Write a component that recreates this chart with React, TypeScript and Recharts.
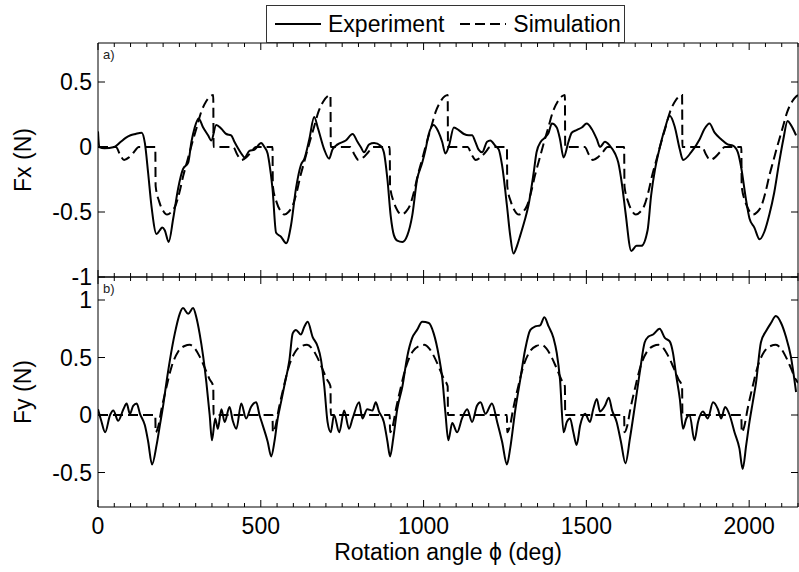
import React from 'react';
import { LineChart, Line, XAxis, YAxis, Legend } from 'recharts';

const FONT = '"Liberation Sans", Arial, Helvetica, sans-serif';

// [rotation angle (deg), force (N)]
const expFx = [
  [0, 0.12], [4, 0.0], [20, -0.01], [50, 0.0], [70, 0.04], [85, 0.07], [100, 0.09], [115, 0.1], [134, 0.11],
  [144, 0.03], [154, -0.2], [164, -0.45], [180, -0.67], [190, -0.64], [197, -0.62], [205, -0.64], [217, -0.73],
  [231, -0.55], [246, -0.32], [261, -0.17], [277, -0.12], [287, 0.04], [297, 0.15], [309, 0.22], [323, 0.15],
  [338, 0.09], [348, 0.05], [363, 0.17], [379, 0.14], [394, 0.1], [409, 0.09], [419, 0.04], [430, -0.01],
  [440, -0.05], [450, -0.08], [465, -0.03], [481, -0.02], [501, 0.03], [511, 0.0], [521, -0.05],
  [526, -0.12], [536, -0.32], [547, -0.66], [562, -0.69], [578, -0.74], [593, -0.6], [608, -0.32], [623, -0.14],
  [634, -0.09], [649, 0.06], [664, 0.23], [676, 0.14], [695, -0.02], [710, -0.09], [720, -0.02], [736, 0.02],
  [761, 0.05], [782, 0.1], [797, 0.04], [807, 0.0], [817, -0.04], [833, 0.02], [848, 0.03], [868, 0.01],
  [878, -0.04], [889, -0.25], [899, -0.53], [909, -0.68], [919, -0.72], [935, -0.73], [950, -0.68], [965, -0.53],
  [980, -0.25], [996, -0.12], [1006, -0.02], [1016, 0.1], [1031, 0.17], [1045, 0.12], [1057, 0.04], [1067, -0.05],
  [1078, 0.01], [1093, 0.15], [1108, 0.13], [1124, 0.1], [1139, 0.09], [1149, 0.09], [1159, 0.04], [1169, -0.02],
  [1180, -0.04], [1195, 0.04], [1205, 0.05], [1220, 0.01], [1231, -0.02], [1241, -0.14], [1256, -0.45],
  [1266, -0.68], [1276, -0.82], [1287, -0.76], [1297, -0.68], [1310, -0.57], [1322, -0.45], [1338, -0.2],
  [1347, -0.04], [1360, 0.04], [1372, 0.07], [1384, 0.11], [1394, 0.18], [1409, 0.15], [1419, 0.06], [1430, -0.08],
  [1445, 0.04], [1455, 0.11], [1470, 0.13], [1486, 0.15], [1501, 0.18], [1516, 0.14], [1532, 0.06], [1542, 0.0],
  [1557, 0.04], [1572, 0.01], [1588, -0.05], [1598, -0.12], [1610, -0.3], [1620, -0.5], [1638, -0.8],
  [1654, -0.76], [1669, -0.76], [1688, -0.64], [1699, -0.37], [1711, -0.17], [1722, -0.04], [1741, 0.14],
  [1756, 0.24], [1771, 0.16], [1787, -0.02], [1797, -0.1], [1822, -0.04], [1848, 0.06], [1863, 0.14], [1878, 0.18],
  [1894, 0.11], [1914, 0.06], [1934, 0.02], [1950, 0.01], [1965, -0.04], [1975, -0.15], [1990, -0.4],
  [2001, -0.55], [2016, -0.62], [2032, -0.71], [2047, -0.65], [2062, -0.52], [2077, -0.35], [2092, -0.12],
  [2105, 0.06], [2118, 0.2], [2128, 0.17], [2144, 0.09],
];

const simFx = [
  [0, 0], [55, 0], [68, -0.06], [80, -0.1], [95, -0.08], [110, -0.04], [125, 0], [176, 0], [177, -0.3], [188, -0.42],
  [200, -0.49], [212, -0.52], [225, -0.5], [238, -0.45], [250, -0.35], [262, -0.22], [275, -0.1], [288, 0.02],
  [302, 0.14], [317, 0.27], [332, 0.35], [345, 0.39], [354, 0.4], [355, 0],
  [360, 0], [415, 0], [428, -0.06], [440, -0.1], [455, -0.08], [470, -0.04], [485, 0], [536, 0], [537, -0.3],
  [548, -0.42], [560, -0.49], [572, -0.52], [585, -0.5], [598, -0.45], [610, -0.35], [622, -0.22], [635, -0.1],
  [648, 0.02], [662, 0.14], [677, 0.27], [692, 0.35], [705, 0.39], [714, 0.4], [715, 0],
  [720, 0], [775, 0], [788, -0.06], [800, -0.1], [815, -0.08], [830, -0.04], [845, 0], [896, 0], [897, -0.3],
  [908, -0.42], [920, -0.49], [932, -0.52], [945, -0.5], [958, -0.45], [970, -0.35], [982, -0.22], [995, -0.1],
  [1008, 0.02], [1022, 0.14], [1037, 0.27], [1052, 0.35], [1065, 0.39], [1074, 0.4], [1075, 0],
  [1080, 0], [1135, 0], [1148, -0.06], [1160, -0.1], [1175, -0.08], [1190, -0.04], [1205, 0], [1256, 0],
  [1257, -0.3], [1268, -0.42], [1280, -0.49], [1292, -0.52], [1305, -0.5], [1318, -0.45], [1330, -0.35],
  [1342, -0.22], [1355, -0.1], [1368, 0.02], [1382, 0.14], [1397, 0.27], [1412, 0.35], [1425, 0.39], [1434, 0.4],
  [1435, 0],
  [1440, 0], [1495, 0], [1508, -0.06], [1520, -0.1], [1535, -0.08], [1550, -0.04], [1565, 0], [1616, 0],
  [1617, -0.3], [1628, -0.42], [1640, -0.49], [1652, -0.52], [1665, -0.5], [1678, -0.45], [1690, -0.35],
  [1702, -0.22], [1715, -0.1], [1728, 0.02], [1742, 0.14], [1757, 0.27], [1772, 0.35], [1785, 0.39], [1794, 0.4],
  [1795, 0],
  [1800, 0], [1855, 0], [1868, -0.06], [1880, -0.1], [1895, -0.08], [1910, -0.04], [1925, 0], [1976, 0],
  [1977, -0.3], [1988, -0.42], [2000, -0.49], [2012, -0.52], [2025, -0.5], [2038, -0.45], [2050, -0.35],
  [2062, -0.22], [2075, -0.1], [2088, 0.02], [2102, 0.14], [2117, 0.27], [2132, 0.35], [2145, 0.39], [2150, 0.4],
];

const expFy = [
  [0, 0.05], [10, -0.05], [22, -0.15], [37, 0], [47, 0.04], [62, -0.05], [78, 0.05], [88, 0.1], [98, 0.01],
  [108, 0.08], [119, 0.1], [129, 0.01], [144, -0.09], [154, -0.23], [166, -0.43], [180, -0.26], [190, -0.09],
  [200, 0.08], [210, 0.28], [221, 0.48], [236, 0.71], [251, 0.88], [261, 0.93], [277, 0.88], [292, 0.93],
  [302, 0.85], [312, 0.71], [323, 0.51], [333, 0.28], [343, 0], [350, -0.22], [360, -0.03], [368, -0.12],
  [379, 0.05], [389, -0.06], [404, 0.07], [414, -0.05], [425, -0.12], [440, 0.1], [455, -0.03], [470, 0.07],
  [486, 0.11], [496, 0], [506, -0.09], [521, -0.23], [532, -0.36], [542, -0.23], [552, -0.03], [562, 0.11],
  [572, 0.25], [588, 0.48], [598, 0.71], [608, 0.74], [623, 0.7], [634, 0.77], [644, 0.81], [659, 0.68],
  [674, 0.6], [685, 0.48], [695, 0.25], [705, -0.06], [715, -0.15], [725, 0], [741, -0.15], [756, 0.04],
  [771, -0.12], [782, -0.03], [802, 0.11], [812, -0.03], [827, 0.05], [843, 0.04], [853, 0.11], [863, 0.03],
  [878, -0.06], [889, -0.23], [897, -0.36], [907, -0.2], [919, 0.05], [935, 0.25], [950, 0.51], [965, 0.67],
  [980, 0.74], [996, 0.81], [1016, 0.8], [1031, 0.71], [1047, 0.51], [1057, 0.33], [1067, 0.02], [1076, -0.22],
  [1088, -0.07], [1103, -0.15], [1118, -0.03], [1134, 0.05], [1149, -0.06], [1164, 0.08], [1175, 0.11],
  [1190, 0.01], [1210, 0.1], [1226, -0.06], [1241, -0.23], [1256, -0.43], [1266, -0.29], [1282, 0.05],
  [1297, 0.31], [1312, 0.57], [1328, 0.74], [1343, 0.77], [1358, 0.78], [1371, 0.85], [1384, 0.77], [1399, 0.67],
  [1409, 0.54], [1419, 0.31], [1430, -0.15], [1440, -0.06], [1450, -0.03], [1460, -0.15], [1470, -0.26],
  [1481, -0.09], [1496, 0.01], [1511, -0.06], [1521, 0.05], [1532, 0.14], [1542, 0.03], [1557, 0.08],
  [1569, 0.15], [1579, 0.04], [1593, -0.06], [1606, -0.23], [1620, -0.42], [1634, -0.2], [1649, 0.08],
  [1664, 0.37], [1679, 0.63], [1690, 0.68], [1705, 0.7], [1725, 0.75], [1741, 0.67], [1756, 0.64], [1766, 0.54],
  [1776, 0.34], [1787, 0.14], [1797, -0.12], [1807, -0.03], [1817, 0], [1832, -0.22], [1843, -0.06], [1858, 0.03],
  [1873, -0.03], [1889, 0.11], [1904, 0.05], [1914, -0.03], [1926, 0.07], [1940, 0], [1955, -0.15], [1970, -0.29],
  [1980, -0.47], [1991, -0.26], [2001, -0.06], [2011, 0.11], [2021, 0.28], [2036, 0.63], [2052, 0.73],
  [2067, 0.8], [2082, 0.86], [2098, 0.8], [2113, 0.68], [2128, 0.51], [2144, 0.2],
];

const simFy = [
  [0, 0], [176, 0], [177, -0.15], [185, -0.1], [195, 0.05], [210, 0.24], [226, 0.42], [246, 0.55], [266, 0.6],
  [282, 0.61], [297, 0.58], [312, 0.51], [328, 0.41], [343, 0.31], [354, 0.25], [355, 0],
  [360, 0], [536, 0], [537, -0.15], [545, -0.1], [555, 0.05], [570, 0.24], [586, 0.42], [606, 0.55], [626, 0.6],
  [642, 0.61], [657, 0.58], [672, 0.51], [688, 0.41], [703, 0.31], [714, 0.25], [715, 0],
  [720, 0], [896, 0], [897, -0.15], [905, -0.1], [915, 0.05], [930, 0.24], [946, 0.42], [966, 0.55], [986, 0.6],
  [1002, 0.61], [1017, 0.58], [1032, 0.51], [1048, 0.41], [1063, 0.31], [1074, 0.25], [1075, 0],
  [1080, 0], [1256, 0], [1257, -0.15], [1265, -0.1], [1275, 0.05], [1290, 0.24], [1306, 0.42], [1326, 0.55],
  [1346, 0.6], [1362, 0.61], [1377, 0.58], [1392, 0.51], [1408, 0.41], [1423, 0.31], [1434, 0.25], [1435, 0],
  [1440, 0], [1616, 0], [1617, -0.15], [1625, -0.1], [1635, 0.05], [1650, 0.24], [1666, 0.42], [1686, 0.55],
  [1706, 0.6], [1722, 0.61], [1737, 0.58], [1752, 0.51], [1768, 0.41], [1783, 0.31], [1794, 0.25], [1795, 0],
  [1800, 0], [1976, 0], [1977, -0.15], [1985, -0.1], [1995, 0.05], [2010, 0.24], [2026, 0.42], [2046, 0.55],
  [2066, 0.6], [2082, 0.61], [2097, 0.58], [2112, 0.51], [2128, 0.41], [2143, 0.31], [2150, 0.28],
];

const angleDomain = [0, 2150];
const angleLabels = [0, 500, 1000, 1500, 2000];
const angleTicks = Array.from({ length: 44 }, (_, i) => i * 50);
const fxDomain = [-1, 0.8];
const fxTicks = [-1, -0.5, 0, 0.5];
const fyDomain = [-0.8, 1.2];
const fyTicks = [-0.5, 0, 0.5, 1];

const rows = (pairs: number[][]) => pairs.map(([angle, force]) => ({ angle, force }));

const txt = { fontFamily: FONT, fontSize: 23, fill: '#000' };

const BottomTick = (props: any) => {
  const { x, y, payload, withLabel } = props;
  const major = angleLabels.includes(payload.value);
  return (
    <g>
      <line x1={x} x2={x} y1={y} y2={y - (major ? 7 : 4)} stroke="#000" />
      {withLabel && major ? (
        <text x={x} y={y + 27} textAnchor="middle" {...txt}>{payload.value}</text>
      ) : null}
    </g>
  );
};

const TopTick = (props: any) => {
  const { x, y, payload } = props;
  const major = angleLabels.includes(payload.value);
  return <line x1={x} x2={x} y1={y} y2={y + (major ? 7 : 4)} stroke="#000" />;
};

const LeftTick = (props: any) => {
  const { x, y, payload } = props;
  return (
    <g>
      <line x1={x} x2={x + 7} y1={y} y2={y} stroke="#000" />
      <text x={x - 6} y={y + 8} textAnchor="end" {...txt}>{payload.value}</text>
    </g>
  );
};

const RightTick = (props: any) => {
  const { x, y } = props;
  return <line x1={x} x2={x - 7} y1={y} y2={y} stroke="#000" />;
};

const renderLegend = (props: any) => (
  <div
    style={{
      boxSizing: 'border-box', width: '100%', height: 38, border: '1px solid #333', background: '#fff',
      display: 'flex', alignItems: 'center', paddingLeft: 8, fontFamily: FONT, fontSize: 23, color: '#000',
      whiteSpace: 'nowrap',
    }}
  >
    {(props.payload || [])
      .filter((entry: any) => entry.value === 'Experiment' || entry.value === 'Simulation')
      .map((entry: any, i: number) => (
        <span key={entry.value} style={{ display: 'flex', alignItems: 'center', marginLeft: i ? 16 : 0 }}>
          <svg width={46} height={6}>
            <line x1={0} x2={46} y1={3} y2={3} stroke="#000" strokeWidth={2}
              strokeDasharray={entry.payload?.strokeDasharray} />
          </svg>
          <span style={{ marginLeft: 7 }}>{entry.value}</span>
        </span>
      ))}
  </div>
);

interface PanelProps {
  exp: number[][];
  sim: number[][];
  domain: number[];
  ticks: number[];
  yLabel: string;
  tag: string;
  height: number;
  marginTop: number;
  xHeight: number;
  bottom?: boolean;
  legend?: boolean;
}

// the top and right frame axes need a size of at least 1px, otherwise Recharts skips them
const Panel = ({ exp, sim, domain, ticks, yLabel, tag, height, marginTop, xHeight, bottom, legend }: PanelProps) => (
  <LineChart width={799} height={height} margin={{ top: marginTop, right: 0, bottom: 0, left: 0 }}>
    <XAxis
      dataKey="angle" type="number" domain={angleDomain} ticks={angleTicks} interval={0} allowDataOverflow
      height={xHeight} tickSize={0} tickMargin={0} tickLine={false} axisLine={{ stroke: '#000' }}
      tick={(p: any) => <BottomTick {...p} withLabel={bottom} />}
      label={bottom ? (p: any) => (
        <text x={p.viewBox.x + p.viewBox.width / 2} y={p.viewBox.y + 53} textAnchor="middle" {...txt}>
          Rotation angle ϕ (deg)
        </text>
      ) : undefined}
    />
    <XAxis
      xAxisId="top" orientation="top" dataKey="angle" type="number" domain={angleDomain} ticks={angleTicks}
      interval={0} allowDataOverflow height={1} tickSize={0} tickMargin={0} tickLine={false}
      axisLine={{ stroke: '#000' }} tick={(p: any) => <TopTick {...p} />}
      label={(p: any) => (
        <text x={p.viewBox.x + 5} y={p.viewBox.y + 17} fontFamily={FONT} fontSize={13} fill="#222">{tag}</text>
      )}
    />
    <YAxis
      type="number" domain={domain} ticks={ticks} interval={0} allowDataOverflow width={98}
      tickSize={0} tickMargin={0} tickLine={false} axisLine={{ stroke: '#000' }}
      tick={(p: any) => <LeftTick {...p} />}
      label={(p: any) => (
        <text
          transform={`translate(${p.viewBox.x + 31}, ${p.viewBox.y + p.viewBox.height / 2}) rotate(-90)`}
          textAnchor="middle" {...txt}
        >
          {yLabel}
        </text>
      )}
    />
    <YAxis
      yAxisId="right" orientation="right" type="number" domain={domain} ticks={ticks} interval={0}
      allowDataOverflow width={1} tickSize={0} tickMargin={0} tickLine={false} axisLine={{ stroke: '#000' }}
      tick={(p: any) => <RightTick {...p} />}
    />
    {legend ? (
      <Legend
        layout="horizontal" verticalAlign="middle" align="center"
        wrapperStyle={{ top: 5, left: 266, width: 359, height: 38 }}
        content={renderLegend}
      />
    ) : null}
    {/* invisible copy so the top and right frame axes get a domain */}
    <Line
      data={rows(sim)} dataKey="force" name="frame" xAxisId="top" yAxisId="right" stroke="none"
      legendType="none" dot={false} activeDot={false} isAnimationActive={false}
    />
    <Line
      data={rows(exp)} dataKey="force" name="Experiment" type="monotone" stroke="#000" strokeWidth={2}
      dot={false} activeDot={false} isAnimationActive={false}
    />
    <Line
      data={rows(sim)} dataKey="force" name="Simulation" type="monotone" stroke="#000" strokeWidth={2}
      strokeDasharray="10 5" dot={false} activeDot={false} isAnimationActive={false}
    />
  </LineChart>
);

export default function App() {
  return (
    <div style={{ position: 'absolute', left: 0, top: 0, width: 799, height: 572, background: '#fff', overflow: 'hidden' }}>
      <div style={{ position: 'absolute', left: 0, top: 0 }}>
        <Panel exp={expFx} sim={simFx} domain={fxDomain} ticks={fxTicks} yLabel="Fx (N)" tag="a)"
          height={290} marginTop={42} xHeight={13} legend />
      </div>
      <div style={{ position: 'absolute', left: 0, top: 267 }}>
        <Panel exp={expFy} sim={simFy} domain={fyDomain} ticks={fyTicks} yLabel="Fy (N)" tag="b)"
          height={305} marginTop={9} xHeight={65} bottom />
      </div>
    </div>
  );
}
